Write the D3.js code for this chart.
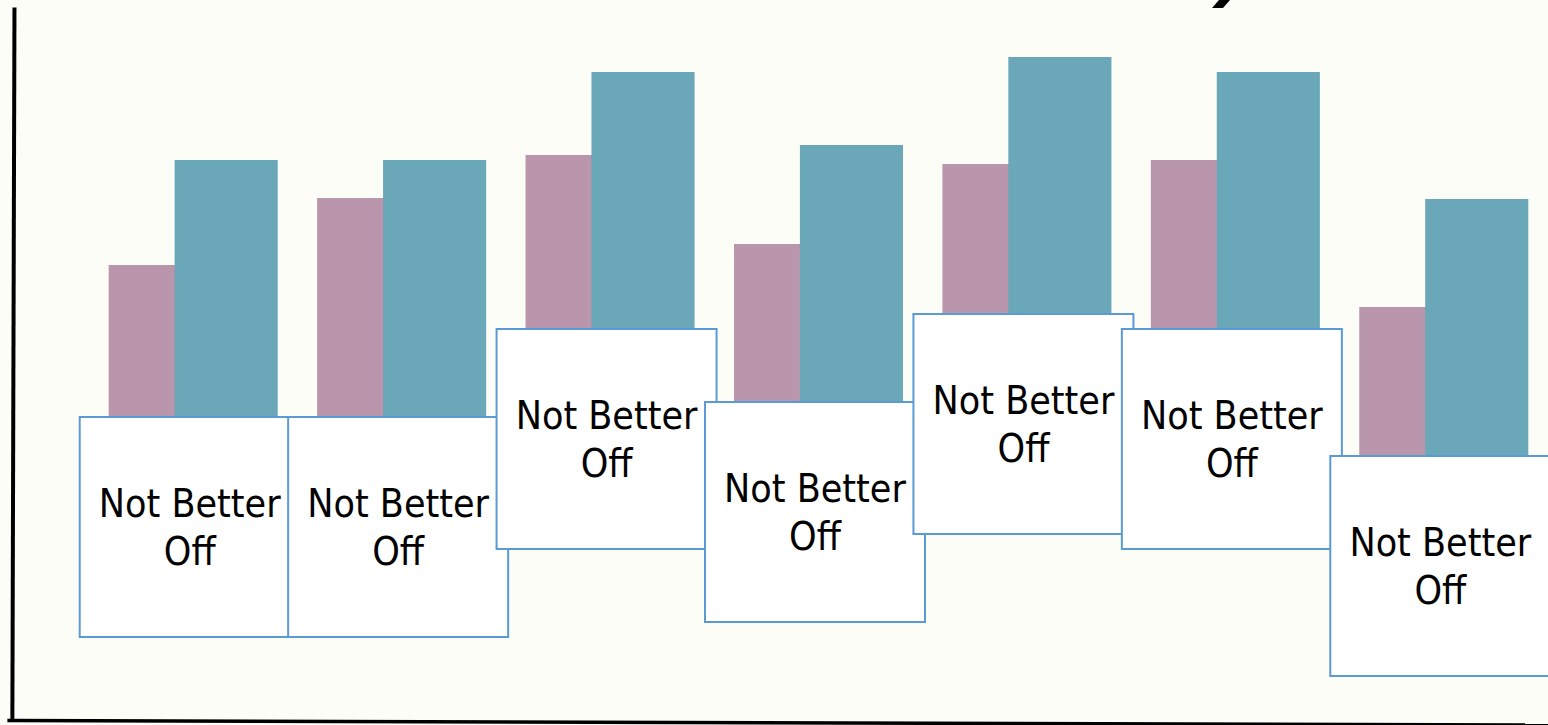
<!DOCTYPE html>
<html>
<head>
<meta charset="utf-8">
<script src="https://cdn.jsdelivr.net/npm/d3@7"></script>
<style>
  html, body { margin: 0; padding: 0; background: #fdfdf7; overflow: hidden; }
  svg { display: block; }
</style>
</head>
<body>
<svg id="chart" width="1548" height="725"></svg>
<script>
// ---- data ----
const categories = ["1", "2", "3", "4", "5", "6", "7"];
const seriesA = [47.75, 64.5, 75.25, 53, 73, 74, 37.25];   // pink bars
const seriesB = [74, 74, 96, 77.75, 99.75, 96, 64.25];     // teal bars
const labelLines = ["Not Better", "Off"];

// ---- layout ----
const W = 1548, H = 725;
const svg = d3.select("#chart");
svg.append("rect").attr("width", W).attr("height", H).attr("fill", "#fdfdf7");

const x = d3.scaleBand()
  .domain(categories)
  .range([89, W])
  .paddingInner(0.189)
  .paddingOuter(0.0945);

const y = d3.scaleLinear().domain([0, 100]).range([456, 56]);

const bw = x.bandwidth();
const barW = bw * 0.61;
const offB = bw * 0.39;

const colA = "#b996ab", colB = "#6aa7b9";

// tail of a title glyph that lies above the visible area (decoration)
const tail = d3.path();
tail.moveTo(1219, 0); tail.lineTo(1230, 0); tail.lineTo(1223, 8); tail.lineTo(1212, 8); tail.closePath();
svg.append("path").attr("d", tail.toString()).attr("fill", "#000");

// axes frame (slightly rotated like the original)
const frame = svg.append("g").attr("transform", "rotate(0.17)");
const fx = d3.scaleLinear().domain([0, 1]).range([9, 1560]);
const fy = d3.scaleLinear().domain([0, 1]).range([720, 7]);
frame.append("g")
  .attr("transform", `translate(0,${fy(0)})`)
  .call(d3.axisBottom(fx).ticks(0).tickSize(0).tickFormat(""))
  .call(g => g.select(".domain").attr("stroke", "#000").attr("stroke-width", 3.5));
frame.append("g")
  .attr("transform", `translate(14,0)`)
  .call(d3.axisLeft(fy).ticks(0).tickSize(0).tickFormat(""))
  .call(g => g.select(".domain").attr("stroke", "#000").attr("stroke-width", 4));

// bars
const rows = categories.map((c, i) => ({ c, a: seriesA[i], b: seriesB[i] }));
const bars = svg.append("g");
bars.selectAll("rect.a").data(rows).join("rect")
  .attr("class", "a")
  .attr("x", d => x(d.c))
  .attr("y", d => y(d.a))
  .attr("width", barW)
  .attr("height", d => y(0) - y(d.a))
  .attr("fill", colA);
bars.selectAll("rect.b").data(rows).join("rect")
  .attr("class", "b")
  .attr("x", d => x(d.c) + offB)
  .attr("y", d => y(d.b))
  .attr("width", barW)
  .attr("height", d => y(0) - y(d.b))
  .attr("fill", colB);

// label boxes
const boxW = 220, boxH = 220;
const boxes = svg.append("g").selectAll("g").data(rows).join("g")
  .attr("transform", d => `translate(${x(d.c) + bw / 2 - 3.5 - boxW / 2},${y(d.b) + 257})`);
boxes.append("rect")
  .attr("x", 0).attr("y", 0)
  .attr("width", boxW).attr("height", boxH)
  .attr("fill", "#ffffff")
  .attr("stroke", "#5b9bd5")
  .attr("stroke-width", 2);
const t = boxes.append("text")
  .attr("text-anchor", "middle")
  .attr("font-family", "DejaVu Sans Condensed, DejaVu Sans, sans-serif")
  .attr("font-stretch", "condensed")
  .attr("font-size", 39)
  .attr("fill", "#000");
labelLines.forEach((line, i) => {
  t.append("tspan").attr("x", boxW / 2).attr("y", 100 + i * 48).text(line);
});
</script>
</body>
</html>
